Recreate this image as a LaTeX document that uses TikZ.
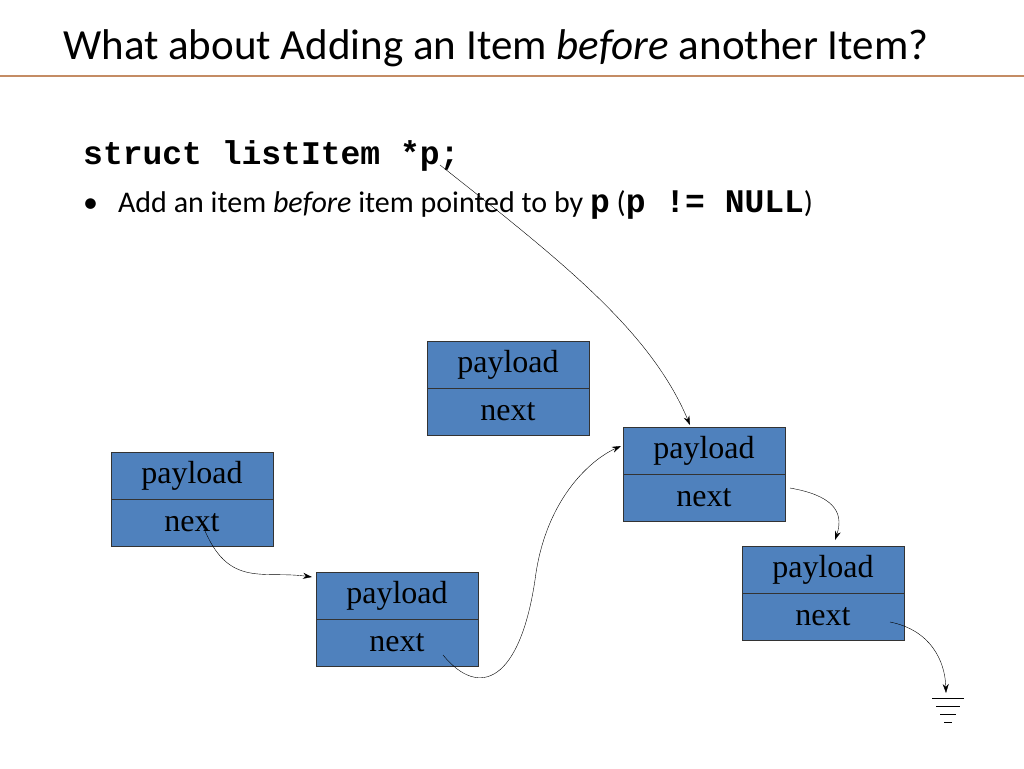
\documentclass[tikz,border=0pt]{standalone}
\usepackage{fontspec}
\setmainfont{Liberation Serif}
\newfontfamily\calfnt{Carlito}
\newfontfamily\cmono{Liberation Mono}
\usetikzlibrary{arrows.meta}
\begin{document}
\begin{tikzpicture}[x=1pt,y=-1pt,
  cell/.style={draw=black!80,fill={rgb,255:red,79;green,129;blue,189},minimum width=162pt,minimum height=47pt,inner sep=0pt,font=\fontsize{32}{32}\selectfont},
  arr/.style={-{Stealth[length=9pt,width=6pt]},thin}]
\useasboundingbox (0,0) rectangle (1024,768);
\node[anchor=west,font=\calfnt\fontsize{43}{43}\selectfont,inner sep=0] (title) at (63,48) {What about Adding an Item \emph{before} another Item?};
\draw[line width=2.5pt,color={rgb,255:red,196;green,140;blue,100}] (0,76) -- (1024,76);
\node[anchor=west,font=\cmono\bfseries\fontsize{33}{33}\selectfont,inner sep=0] (code) at (83,156) {struct listItem *p;};
\node[anchor=west,font=\calfnt\fontsize{30}{30}\selectfont,inner sep=0] (bul) at (83,205) {\textbullet\hspace{20pt}Add an item \emph{before} item pointed to by {\cmono\bfseries\fontsize{33}{33}\selectfont p} ({\cmono\bfseries\fontsize{33}{33}\selectfont p != NULL})};
\foreach \n/\x/\y in {a/508/364.5,b/704/450.5,c/192/475.5,d/397/595.5,e/823/569.5}{
  \node[cell,anchor=center] (\n p) at (\x,\y) {payload};
  \node[cell,anchor=north] (\n n) at (\n p.south) {next};
}
\coordinate (ps) at (440,165);
\draw[arr] (ps) .. controls (560,260) and (650,330) .. (690,425);
\draw[arr] (200,518) .. controls (225,590) and (260,570) .. (312,577);
\draw[arr] (443,655) .. controls (480,700) and (520,680) .. (535,580) .. controls (545,500) and (590,460) .. (621,446);
\draw[arr] (790,488) .. controls (830,495) and (845,510) .. (835,540);
\draw[arr] (890,622) .. controls (930,630) and (945,660) .. (946,693);
\coordinate (g) at (948,698);
\draw (g) ++(-16,0) -- ++(32,0);
\draw (g) ++(-12,8) -- ++(24,0);
\draw (g) ++(-8,16) -- ++(16,0);
\draw (g) ++(-4,24) -- ++(8,0);
\end{tikzpicture}
\end{document}
